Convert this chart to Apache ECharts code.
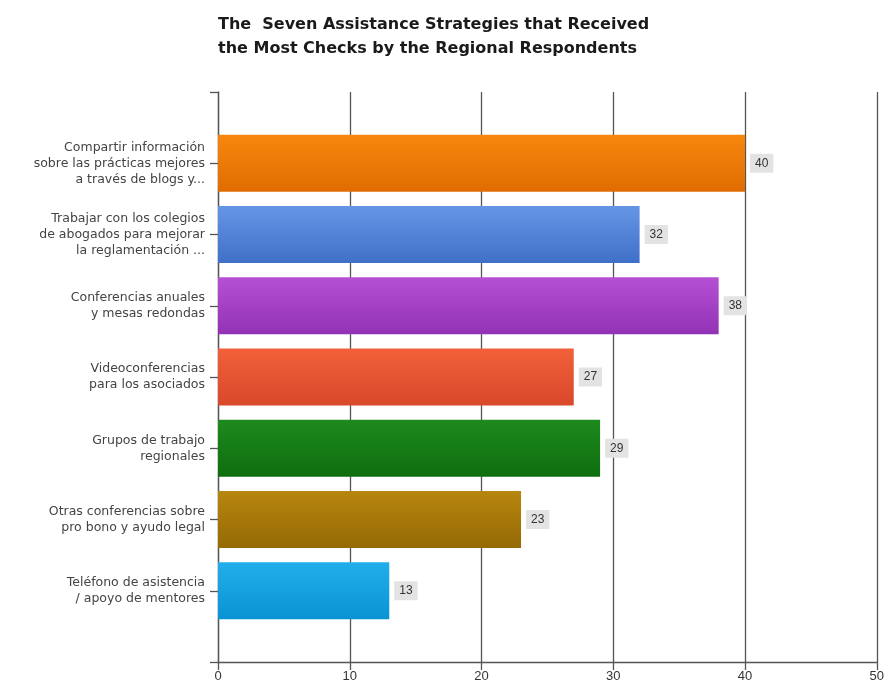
<!DOCTYPE html>
<html>
<head>
<meta charset="utf-8">
<script src="https://cdn.jsdelivr.net/npm/echarts@6/dist/echarts.min.js"></script>
<style>html,body{margin:0;padding:0;background:#fff}#c{width:887px;height:687px}</style>
</head>
<body>
<div id="c"></div>
<script>
const titleText = "The  Seven Assistance Strategies that Received\nthe Most Checks by the Regional Respondents";
const categories = [
  "Compartir información\nsobre las prácticas mejores\na través de blogs y...",
  "Trabajar con los colegios\nde abogados para mejorar\nla reglamentación ...",
  "Conferencias anuales\ny mesas redondas",
  "Videoconferencias\npara los asociados",
  "Grupos de trabajo\nregionales",
  "Otras conferencias sobre\npro bono y ayudo legal",
  "Teléfono de asistencia\n/ apoyo de mentores"
];
const values = [40, 32, 38, 27, 29, 23, 13];
const xTicks = [0, 10, 20, 30, 40, 50];
const colorTop = ["#F7870E", "#6596E6", "#B550D4", "#F2603A", "#1E8A1E", "#B8860E", "#22AEEA"];
const colorBottom = ["#E06C00", "#3F70C8", "#9232B4", "#D8482A", "#0E6E0E", "#956A06", "#0A93D4"];

// pad the category axis with an empty slot on each side
const yCats = [""].concat(categories, [""]);
const seriesData = ["-"].concat(values.map((v, i) => ({
  value: v,
  itemStyle: {
    color: new echarts.graphic.LinearGradient(0, 0, 0, 1, [
      {offset: 0, color: colorTop[i]},
      {offset: 1, color: colorBottom[i]}
    ])
  }
})), ["-"]);

const chart = echarts.init(document.getElementById('c'));
chart.setOption({
  animation: false,
  backgroundColor: '#fff',
  title: {
    text: titleText,
    left: 213,
    top: 8,
    textStyle: {fontFamily: 'DejaVu Sans, sans-serif', fontWeight: 'bold', fontSize: 16, color: '#1a1a1a', lineHeight: 24}
  },
  grid: {left: 218, right: 10, top: 92, bottom: 25, containLabel: false},
  xAxis: {
    type: 'value',
    min: xTicks[0],
    max: xTicks[xTicks.length - 1],
    interval: 10,
    axisLine: {show: true, lineStyle: {color: '#555', width: 1.3}},
    axisTick: {show: true, length: 8, lineStyle: {color: '#555', width: 1.3}},
    splitLine: {show: true, lineStyle: {color: '#555', width: 1.3}},
    axisLabel: {color: '#333', fontSize: 13, margin: 8, fontFamily: 'Liberation Sans, Arial, sans-serif'}
  },
  yAxis: {
    type: 'category',
    data: yCats,
    inverse: true,
    boundaryGap: false,
    axisLine: {show: true, lineStyle: {color: '#555', width: 1.3}},
    axisTick: {show: true, length: 8, interval: 0, lineStyle: {color: '#555', width: 1.3}},
    splitLine: {show: false},
    axisLabel: {interval: 0, color: '#444', fontSize: 12.5, lineHeight: 16, margin: 13, align: 'right', fontFamily: 'DejaVu Sans, sans-serif'}
  },
  series: [{
    type: 'bar',
    data: seriesData,
    barWidth: 57,
    label: {
      show: true,
      position: 'right',
      distance: 5,
      color: '#333',
      fontSize: 12,
      backgroundColor: '#e3e3e3',
      padding: [4, 5, 3, 5],
      fontFamily: 'Liberation Sans, Arial, sans-serif'
    }
  }]
});
</script>
</body>
</html>
